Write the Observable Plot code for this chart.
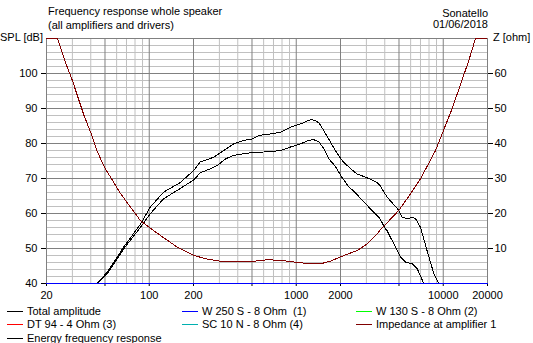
<!DOCTYPE html>
<html>
<head>
<meta charset="utf-8">
<script src="https://cdn.jsdelivr.net/npm/d3@7"></script>
<script src="https://cdn.jsdelivr.net/npm/@observablehq/plot@0.6"></script>
<style>
  html, body { margin: 0; padding: 0; background: #fff; }
  #wrap { position: relative; width: 533px; height: 343px; font-family: "Liberation Sans", Arial, sans-serif; font-size: 11px; color: #000; }
  .t { position: absolute; line-height: 13px; white-space: pre; }
  .r { text-align: right; }
  .lg { position: absolute; line-height: 13px; white-space: pre; }
  .lg span.ln { position: absolute; left: 0; top: 6px; width: 16px; height: 0; border-top: 1px solid #000; }
  .lg span.tx { position: absolute; left: 20px; top: 0; }
</style>
</head>
<body>
<div id="wrap"></div>
<script>
// ---- data ----
const freqTicks = [20, 50, 100, 200, 500, 1000, 2000, 5000, 10000, 20000];
const freqMinor = [30, 40, 60, 70, 80, 90, 300, 400, 600, 700, 800, 900, 3000, 4000, 6000, 7000, 8000, 9000];
const splMajor = [40, 50, 60, 70, 80, 90, 100, 110];
const splMinor = [42, 44, 46, 48, 52, 54, 56, 58, 62, 64, 66, 68, 72, 74, 76, 78, 82, 84, 86, 88, 92, 94, 96, 98, 102, 104, 106, 108];
const splTicks = [40, 50, 60, 70, 80, 90, 100];
const zTicks = [10, 20, 30, 40, 50, 60];

// Total amplitude [Hz, dB]
const totalF = [20, 44.2, 51.7, 67, 87.3, 101.5, 125, 162, 201, 222, 275, 321, 376, 440, 501, 556, 686, 782, 914, 1069, 1250, 1352, 1434, 1539, 1710, 1842, 2055, 2339, 2595, 3037, 3557, 3712, 4150, 4989, 5260, 5688, 6150, 6480, 7000, 7760, 8630, 9340, 20000];
const totalDb = [40, 40, 43.2, 50.4, 57, 61.8, 66.1, 68.8, 72.3, 74.7, 76.1, 78, 79.9, 80.9, 81.3, 82.3, 82.8, 83.2, 84.7, 85.6, 86.8, 86.6, 85.8, 83.7, 80.4, 78, 75.1, 72.8, 71.3, 70.2, 68.8, 68, 64.7, 60.9, 58.9, 58.5, 58.9, 58.5, 56.1, 49.4, 42.8, 40, 40];

// Energy frequency response [Hz, dB]
const energyF = [44.2, 51.7, 67, 87.3, 101.5, 125, 162, 201, 222, 261, 290, 330, 376, 452, 556, 686, 782, 914, 1069, 1217, 1316, 1434, 1539, 1666, 1842, 2055, 2280, 2462, 3037, 3557, 3712, 4016, 4150, 4610, 5135, 5535, 6150, 6650, 7380];
const energyDb = [40, 42.8, 49.9, 56.1, 59.9, 64.2, 67.1, 69.6, 71.6, 72.8, 73.7, 75.6, 76.6, 77.2, 77.5, 77.7, 78, 79, 79.9, 80.9, 81.1, 80.4, 78.5, 75.6, 73.5, 70.2, 67.6, 66.4, 62.3, 59.4, 58.5, 55.8, 55.1, 51.3, 47.5, 46.1, 45.6, 44.2, 40];

// W 250 S (below 40 dB, drawn at the bottom edge)
const w250F = [20, 20000];
const w250Db = [40, 40];

// Impedance at amplifier 1 [Hz, ohm]
const impF = [20, 23.8, 27, 30, 36, 41, 44, 47.4, 49.6, 64, 87, 101, 125, 155, 201, 247, 312, 417, 500, 636, 782, 982, 1250, 1456, 1710, 2108, 2595, 3037, 3557, 3712, 4989, 5985, 7000, 8860, 11500, 14920, 16570, 20000];
const impZ = [70, 70, 63, 58, 48, 42, 38, 35, 33.2, 25.6, 18, 15.9, 13.1, 10.4, 8, 7, 6.3, 6.2, 6.3, 6.8, 6.6, 6.1, 5.6, 5.6, 6.4, 8, 9.4, 11.3, 14.2, 15.2, 20.9, 25.6, 29.9, 38, 50, 63.7, 70, 70];

const legendLabels = ["Total amplitude", "W 250 S - 8 Ohm  (1)", "W 130 S - 8 Ohm (2)", "DT 94 - 4 Ohm (3)", "SC 10 N - 8 Ohm (4)", "Impedance at amplifier 1", "Energy frequency response"];
const legendColors = ["#000000", "#0000ff", "#00ff00", "#ff0000", "#00b0b0", "#800000", "#000000"];

// ---- build ----
const total = totalF.map((f, i) => ({f, v: totalDb[i]}));
const energy = energyF.map((f, i) => ({f, v: energyDb[i]}));
const w250 = w250F.map((f, i) => ({f, v: w250Db[i]}));
const imp = impF.map((f, i) => ({f, v: impZ[i] + 40})); // 1 ohm == 1 dB on this chart, 0 ohm at 40 dB

const chart = Plot.plot({
  width: 533,
  height: 343,
  marginLeft: 46,
  marginRight: 46,
  marginTop: 38,
  marginBottom: 60,
  x: {type: "log", domain: [20, 20000]},
  y: {domain: [40, 110]},
  style: {fontFamily: "'Liberation Sans', Arial, sans-serif", fontSize: "11px", color: "#000", background: "#fff", overflow: "visible"},
  marks: [
    Plot.ruleY(splMinor, {stroke: "#c0c0c0", strokeOpacity: 1}),
    Plot.ruleX(freqMinor, {stroke: "#c0c0c0", strokeOpacity: 1}),
    Plot.ruleY(splMajor, {stroke: "#808080", strokeOpacity: 1}),
    Plot.ruleX(freqTicks, {stroke: "#808080", strokeOpacity: 1}),
    Plot.axisX({ticks: freqTicks, tickFormat: d => String(d), tickSize: 3, tickPadding: 5, label: null, strokeOpacity: 1}),
    Plot.axisY({anchor: "left", ticks: splTicks, tickFormat: d => String(d), tickSize: 5, tickPadding: 4, label: null, strokeOpacity: 1}),
    Plot.axisY({anchor: "right", ticks: zTicks.map(z => z + 40), tickFormat: d => String(d - 40), tickSize: 5, tickPadding: 2, label: null, strokeOpacity: 1}),
    Plot.line(w250, {x: "f", y: "v", stroke: "#0000ff", strokeWidth: 1, shapeRendering: "crispEdges"}),
    Plot.line(energy, {x: "f", y: "v", stroke: "#000", strokeWidth: 1, clip: true, shapeRendering: "crispEdges"}),
    Plot.line(total, {x: "f", y: "v", stroke: "#000", strokeWidth: 1, clip: true, shapeRendering: "crispEdges"}),
    Plot.line(imp, {x: "f", y: "v", stroke: "#800000", strokeWidth: 1, clip: true, shapeRendering: "crispEdges"})
  ]
});

const wrap = document.getElementById("wrap");
wrap.appendChild(chart);

function addText(txt, cls, style) {
  const d = document.createElement("div");
  d.className = "t " + cls;
  d.textContent = txt;
  Object.assign(d.style, style);
  wrap.appendChild(d);
}
addText("Frequency response whole speaker", "", {left: "48px", top: "5px"});
addText("(all amplifiers and drivers)", "", {left: "48px", top: "19px"});
addText("Sonatello", "r", {right: (533 - 488) + "px", top: "7px"});
addText("01/06/2018", "r", {right: (533 - 488) + "px", top: "18px"});
addText("SPL [dB]", "", {left: "0px", top: "31px"});
addText("Z [ohm]", "", {left: "493px", top: "31px"});

const colX = [7, 182, 356];
const rowY = [305, 318, 332];
legendLabels.forEach((lab, i) => {
  const d = document.createElement("div");
  d.className = "lg";
  d.style.left = colX[i % 3] + "px";
  d.style.top = rowY[Math.floor(i / 3)] + "px";
  const ln = document.createElement("span");
  ln.className = "ln";
  ln.style.borderTopColor = legendColors[i];
  const tx = document.createElement("span");
  tx.className = "tx";
  tx.textContent = lab;
  d.appendChild(ln); d.appendChild(tx);
  wrap.appendChild(d);
});
</script>
</body>
</html>
